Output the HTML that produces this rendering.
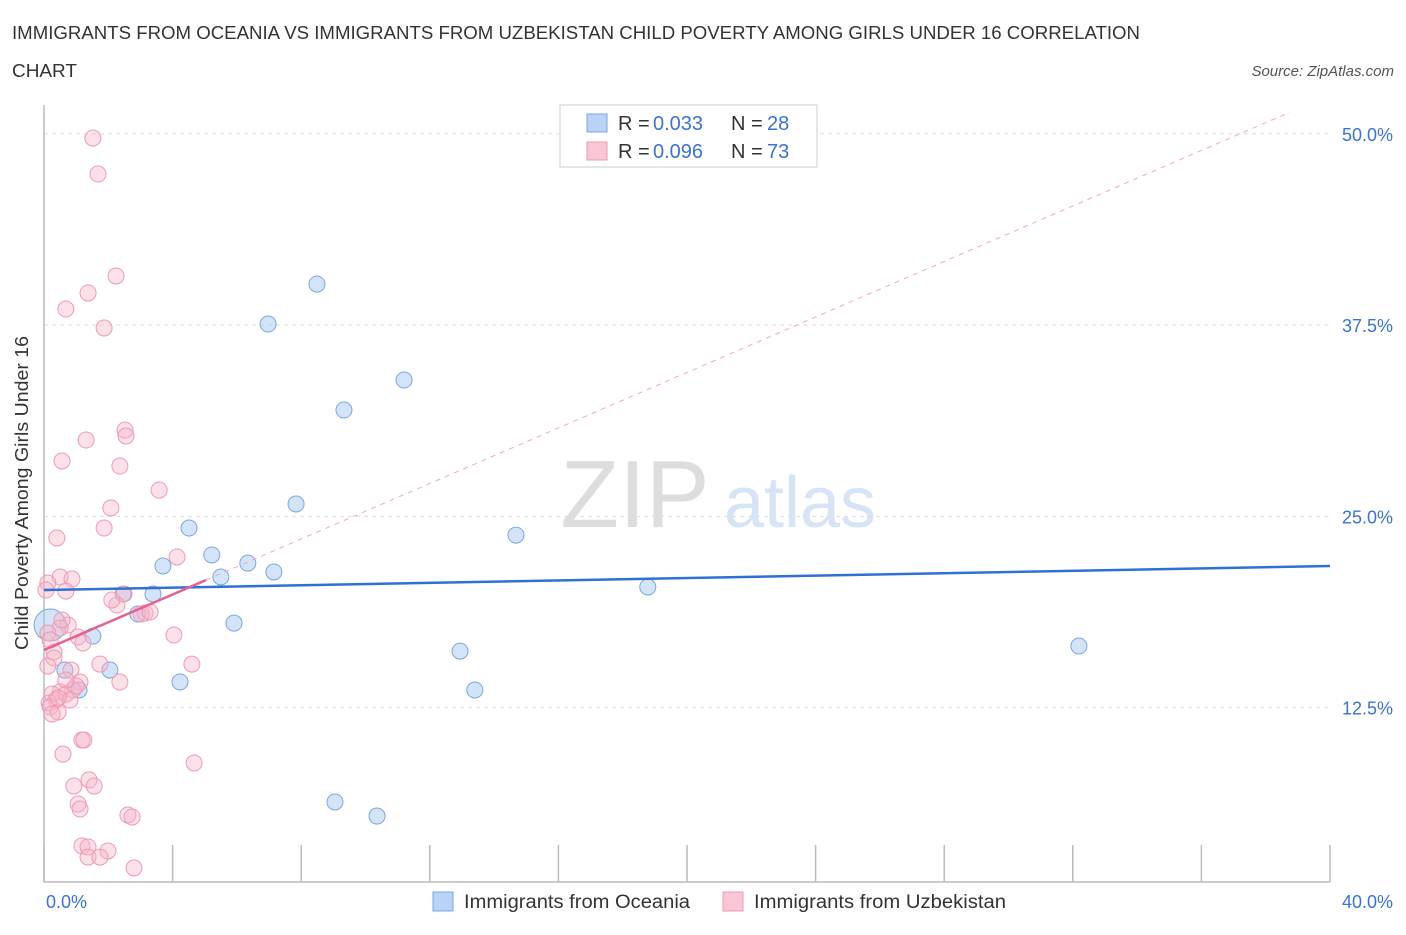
<!DOCTYPE html>
<html><head><meta charset="utf-8"><style>
body{margin:0;background:#fff;font-family:"Liberation Sans",sans-serif;}
svg text{font-family:"Liberation Sans",sans-serif;}
</style></head><body>
<svg id="c" width="1406" height="930">
<text x="12" y="39" font-size="18" fill="#333" textLength="1128" lengthAdjust="spacingAndGlyphs">IMMIGRANTS FROM OCEANIA VS IMMIGRANTS FROM UZBEKISTAN CHILD POVERTY AMONG GIRLS UNDER 16 CORRELATION</text>
<text x="12" y="77" font-size="18" fill="#333" textLength="65" lengthAdjust="spacingAndGlyphs">CHART</text>
<text x="1394" y="76" font-size="15" fill="#555" font-style="italic" text-anchor="end">Source: ZipAtlas.com</text>
<text x="28" y="493" font-size="18" fill="#333" text-anchor="middle" textLength="314" lengthAdjust="spacingAndGlyphs" transform="rotate(-90 28 493)">Child Poverty Among Girls Under 16</text>
<text x="635" y="527" font-size="96" fill="#ddd" font-family="Liberation Serif" text-anchor="middle">ZIP</text>
<text x="800" y="527" font-size="72" fill="#d6e4f5" text-anchor="middle">atlas</text>
<g id="grid"></g><g id="marks"></g>
<g>
<rect x="560" y="105" width="257" height="62" fill="#fff" stroke="#ccc"/>
<rect x="587" y="114" width="20" height="18" fill="#b9d3f5" stroke="#7aa6e0"/>
<rect x="587" y="142" width="20" height="18" fill="#f9c6d5" stroke="#ee9ab4"/>
<text x="618" y="130" font-size="20" fill="#333">R = </text><text x="653" y="130" font-size="20" fill="#3b73d0">0.033</text>
<text x="731" y="130" font-size="20" fill="#333">N = </text><text x="767" y="130" font-size="20" fill="#3b73d0">28</text>
<text x="618" y="158" font-size="20" fill="#333">R = </text><text x="653" y="158" font-size="20" fill="#3b73d0">0.096</text>
<text x="731" y="158" font-size="20" fill="#333">N = </text><text x="767" y="158" font-size="20" fill="#3b73d0">73</text>
</g>
<g>
<rect x="433" y="892" width="20" height="19" fill="#b9d3f5" stroke="#7aa6e0"/>
<text x="464" y="908" font-size="19" fill="#333" textLength="226" lengthAdjust="spacingAndGlyphs">Immigrants from Oceania</text>
<rect x="723" y="892" width="20" height="19" fill="#f9c6d5" stroke="#ee9ab4"/>
<text x="754" y="908" font-size="19" fill="#333" textLength="252" lengthAdjust="spacingAndGlyphs">Immigrants from Uzbekistan</text>
</g>
</svg>
<script>
const yTicks=[12.5,25,37.5,50];
const yTickLabels=["12.5%","25.0%","37.5%","50.0%"];
const xTicks=[0,4,8,12,16,20,24,28,32,36,40];
const oceaniaX=[8.49,6.97,11.20,9.33,7.84,14.68,4.51,5.22,3.70,6.34,5.50,7.15,3.39,2.46,2.92,5.91,1.52,2.05,0.65,4.23,1.09,18.78,12.94,13.40,32.19,9.05,10.36,0.19];
const oceaniaY=[40.18,37.57,33.91,31.95,25.81,23.78,24.24,22.48,21.76,21.95,21.04,21.37,19.93,19.93,18.62,18.03,17.18,14.96,14.96,14.18,13.66,20.39,16.20,13.66,16.53,6.34,5.42,17.90];
const uzbekX=[1.52,1.68,2.24,1.37,0.68,1.87,2.52,2.55,1.31,0.56,2.36,3.58,2.08,1.87,0.40,4.14,0.50,0.87,0.12,0.68,2.49,2.27,3.14,3.02,0.75,0.50,1.06,1.21,4.04,0.12,0.31,1.74,0.84,4.60,0.31,0.12,2.36,1.12,0.90,0.50,0.25,0.68,0.37,0.81,0.16,0.19,0.44,0.25,1.18,1.24,0.59,4.67,1.40,0.93,1.56,1.06,1.12,2.61,2.74,1.18,1.37,1.99,1.37,1.74,2.80,0.06,0.44,1.00,2.11,0.19,0.68,0.56,3.30];
const uzbekY=[49.72,47.37,40.71,39.60,38.55,37.31,30.64,30.25,29.99,28.62,28.29,26.72,25.55,24.24,23.59,22.35,21.04,20.91,20.65,20.12,19.93,19.21,18.69,18.62,17.90,17.71,17.12,16.73,17.25,17.38,16.14,15.35,14.96,15.35,15.75,15.22,14.18,14.18,13.66,13.53,13.39,13.39,13.00,13.00,12.81,12.55,12.22,12.09,10.39,10.39,9.47,8.89,7.78,7.38,7.38,6.21,5.88,5.49,5.36,3.46,3.40,3.14,2.74,2.74,2.03,20.19,13.13,13.92,19.54,16.92,14.31,18.23,18.75];
const oceaniaTrend=[20.19,21.76];
const uzbekTrend=[16.27,20.84];
const uzbekTrendEnd=5.04;

const NS="http://www.w3.org/2000/svg";
const X=v=>44+v/40*1286;
const Y=v=>899-v/12.5*191.3;
function mk(tag,at,parent){const e=document.createElementNS(NS,tag);for(const k in at)e.setAttribute(k,at[k]);document.getElementById(parent).appendChild(e);return e;}
yTicks.forEach((t,i)=>{
 const l=mk('line',{x1:44,x2:1330,y1:Y(t),y2:Y(t),stroke:'#ddd','stroke-dasharray':'4,4'},'grid');
 
 
 const tx=mk('text',{x:1393,y:Y(t)+7,'font-size':18,fill:'#3b73d0','text-anchor':'end'},'grid');
 tx.textContent=yTickLabels[i];
 
 
});
const ax=mk('line',{x1:44,x2:1330,y1:882,y2:882,stroke:'#bbb','stroke-width':1.5},'grid');


const ay=mk('line',{x1:44,x2:44,y1:105,y2:882,stroke:'#bbb','stroke-width':1.5},'grid');


xTicks.forEach(t=>{
 const l=mk('line',{x1:X(t),x2:X(t),y1:845,y2:882,stroke:'#bbb','stroke-width':1.5},'grid');
 
 
});
[[0,"0.0%",46,'start'],[40,"40.0%",1393,'end']].forEach(a=>{
 const tx=mk('text',{x:a[2],y:908,'font-size':18,fill:'#3b73d0','text-anchor':a[3]},'grid');
 tx.textContent=a[1];
 
 
});
oceaniaX.forEach((v,i)=>{
 const c=mk('circle',{cx:X(v),cy:Y(oceaniaY[i]),r:i===27?16:8,fill:'rgba(160,196,240,0.45)',stroke:'#7aa6e0','stroke-width':1},'marks');
 
 
});
uzbekX.forEach((v,i)=>{
 const c=mk('circle',{cx:X(v),cy:Y(uzbekY[i]),r:8,fill:'rgba(248,180,200,0.4)',stroke:'#ee9ab4','stroke-width':1},'marks');
 
 
});
const slope=(uzbekTrend[1]-uzbekTrend[0])/uzbekTrendEnd;
const xe=38.75;
const d=mk('line',{x1:X(uzbekTrendEnd),y1:Y(uzbekTrend[1]),x2:X(xe),y2:Y(uzbekTrend[0]+slope*xe),stroke:'#f0a8bf','stroke-dasharray':'5,5','stroke-width':1},'marks');


const bl=mk('line',{x1:X(0),y1:Y(oceaniaTrend[0]),x2:X(40),y2:Y(oceaniaTrend[1]),stroke:'#2f6fd6','stroke-width':2.5},'marks');


const pl=mk('line',{x1:X(0),y1:Y(uzbekTrend[0]),x2:X(uzbekTrendEnd),y2:Y(uzbekTrend[1]),stroke:'#e3628e','stroke-width':2.5},'marks');


</script>
</body></html>
